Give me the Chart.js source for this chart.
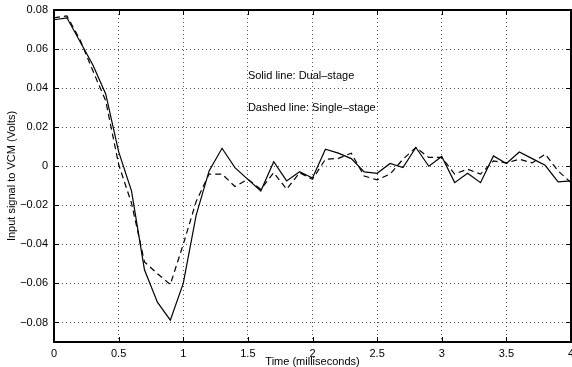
<!DOCTYPE html>
<html>
<head>
<meta charset="utf-8">
<script src="https://cdn.jsdelivr.net/npm/chart.js@4/dist/chart.umd.min.js"></script>
<style>
    html, body { margin: 0; padding: 0; background: #fff; }
    #wrap { width: 572px; height: 367px; }
</style>
</head>
<body>
<div id="wrap"><canvas id="vcm-chart"></canvas></div>
<script>
// Time axis (milliseconds)
const times = [0, 0.1, 0.2, 0.3, 0.4, 0.5, 0.6, 0.7, 0.8, 0.9,
    1.0, 1.1, 1.2, 1.3, 1.4, 1.5, 1.6, 1.7, 1.8, 1.9,
    2.0, 2.1, 2.2, 2.3, 2.4, 2.5, 2.6, 2.7, 2.8, 2.9,
    3.0, 3.1, 3.2, 3.3, 3.4, 3.5, 3.6, 3.7, 3.8, 3.9, 4.0];

// Solid line: dual-stage
const dualStage = [0.075, 0.076, 0.064, 0.052, 0.037, 0.0075, -0.0127, -0.053, -0.0696, -0.0788,
    -0.060, -0.025, -0.0024, 0.0092, -0.0007, -0.0067, -0.0127, 0.0023, -0.0075, -0.0028,
    -0.006, 0.0087, 0.0067, 0.0039, -0.0029, -0.0036, 0.0014, -0.0007, 0.0096, 0.0000,
    0.005, -0.0084, -0.0036, -0.0084, 0.0053, 0.0014, 0.0073, 0.0039, 0.0005, -0.008, -0.0075];

// Dashed line: single-stage
const singleStage = [0.076, 0.077, 0.065, 0.049, 0.0335, 0.001, -0.019, -0.049, -0.055, -0.0605,
    -0.040, -0.018, -0.004, -0.004, -0.0104, -0.0067, -0.0118, -0.0033, -0.0118, -0.0033,
    -0.0067, 0.0036, 0.004, 0.0067, -0.005, -0.007, -0.004, 0.0036, 0.0096, 0.0045,
    0.0045, -0.004, -0.0015, -0.004, 0.0027, 0.0017, 0.0036, 0.0017, 0.0062, -0.0024, -0.0084];

const xTicks = [0, 0.5, 1, 1.5, 2, 2.5, 3, 3.5, 4];
const yTicks = [-0.08, -0.06, -0.04, -0.02, 0, 0.02, 0.04, 0.06, 0.08];

const notes = [
    { text: 'Solid line: Dual\u2013stage', x: 1.5, y: 0.046 },
    { text: 'Dashed line: Single\u2013stage', x: 1.5, y: 0.0297 }
];

const FONT = 'Liberation Sans, Arial, Helvetica, sans-serif';
const FONT_SIZE = 11;

function toPoints(values) {
    return times.map((t, i) => ({ x: t, y: values[i] }));
}

function fmt(v) {
    if (Math.abs(v) < 1e-9) return '0';
    const s = Math.abs(v).toFixed(2);
    return v < 0 ? '\u2212' + s : s;
}

// Box, inward tick marks and the text notes
const frame = {
    id: 'frame',
    afterDatasetsDraw(chart) {
        const { ctx, chartArea: a, scales } = chart;
        ctx.save();
        ctx.strokeStyle = '#000';
        ctx.lineWidth = 1;
        ctx.beginPath();
        xTicks.forEach(v => {
            const px = Math.round(scales.x.getPixelForValue(v)) + 0.5;
            ctx.moveTo(px, a.bottom); ctx.lineTo(px, a.bottom - 5);
            ctx.moveTo(px, a.top); ctx.lineTo(px, a.top + 5);
        });
        yTicks.forEach(v => {
            const py = Math.round(scales.y.getPixelForValue(v)) + 0.5;
            ctx.moveTo(a.left, py); ctx.lineTo(a.left + 5, py);
            ctx.moveTo(a.right, py); ctx.lineTo(a.right - 5, py);
        });
        ctx.stroke();

        ctx.lineWidth = 2;
        ctx.strokeRect(a.left, a.top, a.right - a.left, a.bottom - a.top);

        ctx.fillStyle = '#000';
        ctx.font = FONT_SIZE + 'px ' + FONT;
        ctx.textBaseline = 'middle';
        ctx.textAlign = 'left';
        notes.forEach(n => {
            ctx.fillText(n.text, scales.x.getPixelForValue(n.x), scales.y.getPixelForValue(n.y));
        });
        ctx.restore();
    }
};

const ctx = document.getElementById('vcm-chart').getContext('2d');
const chart = new Chart(ctx, {
    type: 'line',
    data: {
        datasets: [
            { label: 'Dual-stage', data: toPoints(dualStage), borderColor: '#000', borderWidth: 1.2, pointRadius: 0, fill: false, tension: 0 },
            { label: 'Single-stage', data: toPoints(singleStage), borderColor: '#000', borderWidth: 1.2, borderDash: [6, 4], pointRadius: 0, fill: false, tension: 0 }
        ]
    },
    options: {
        responsive: true,
        maintainAspectRatio: false,
        animation: false,
        layout: { padding: { top: 10, right: 1, left: 0, bottom: 0 } },
        plugins: { legend: { display: false }, tooltip: { enabled: false } },
        scales: {
            x: {
                type: 'linear',
                min: 0,
                max: 4,
                afterBuildTicks: s => { s.ticks = xTicks.map(v => ({ value: v })); },
                afterFit: s => { s.height = 25; s.paddingLeft = 0; s.paddingRight = 0; },
                ticks: { color: '#000', padding: 5, maxRotation: 0, autoSkip: false, font: { family: FONT, size: FONT_SIZE }, callback: v => String(v) },
                grid: { color: 'rgba(0,0,0,0.7)', drawTicks: false },
                border: { display: false, dash: [1, 3] },
                title: { display: true, text: 'Time (milliseconds)', color: '#000', font: { family: FONT, size: FONT_SIZE }, padding: { top: 0, bottom: -2 } }
            },
            y: {
                min: -0.09,
                max: 0.08,
                afterBuildTicks: s => { s.ticks = yTicks.map(v => ({ value: v })); },
                afterFit: s => { s.width = 54; s.paddingTop = 0; s.paddingBottom = 0; },
                ticks: { color: '#000', padding: 6, font: { family: FONT, size: FONT_SIZE }, callback: v => fmt(v) },
                grid: { color: 'rgba(0,0,0,0.7)', drawTicks: false },
                border: { display: false, dash: [1, 3] },
                title: { display: true, text: 'Input signal to VCM (Volts)', color: '#000', font: { family: FONT, size: FONT_SIZE }, padding: { top: 5, bottom: 0 } }
            }
        }
    },
    plugins: [frame]
});
</script>
</body>
</html>
